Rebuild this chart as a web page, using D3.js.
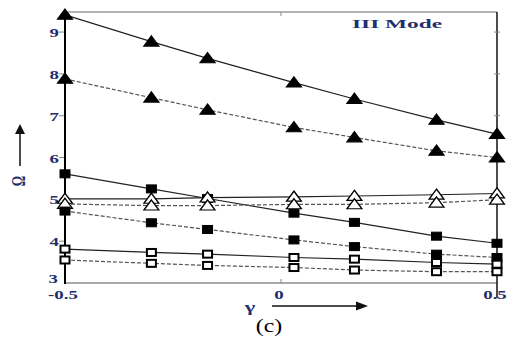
<!doctype html>
<html>
<head>
<meta charset="UTF-8">
<script src="https://d3js.org/d3.v7.min.js"></script>
<style>
  body { margin: 0; background: #fff; }
  svg { display: block; }
  text { font-family: "Liberation Serif", "Times New Roman", serif; }
  .tk { font-weight: bold; font-size: 13px; fill: #1f2f6e; }
</style>
</head>
<body>
<script>
var width = 508, height = 343;

// data
var gammas = [-0.5, -0.3, -0.17, 0.03, 0.17, 0.36, 0.5];
var triSolid   = [9.41, 8.77, 8.37, 7.79, 7.40, 6.90, 6.56];
var triDashed  = [7.88, 7.43, 7.14, 6.72, 6.48, 6.16, 6.00];
var sqSolid    = [5.61, 5.25, 5.02, 4.67, 4.45, 4.12, 3.95];
var otriSolid  = [5.01, 5.01, 5.04, 5.06, 5.08, 5.11, 5.14];
var otriDashed = [4.89, 4.85, 4.85, 4.88, 4.88, 4.92, 4.99];
var sqDashed   = [4.72, 4.44, 4.28, 4.03, 3.87, 3.69, 3.61];
var osqSolid   = [3.81, 3.73, 3.69, 3.61, 3.57, 3.49, 3.45];
var osqDashed  = [3.55, 3.47, 3.42, 3.37, 3.31, 3.27, 3.27];
var xTicks = [-0.5, 0, 0.5];
var yTicks = [3, 4, 5, 6, 7, 8, 9];

var series = [
  {vals: triSolid, dash: null, mark: 'tri', fill: '#000'},
  {vals: triDashed, dash: '4,2', mark: 'tri', fill: '#000'},
  {vals: sqSolid, dash: null, mark: 'sq', fill: '#000'},
  {vals: otriSolid, dash: null, mark: 'tri', fill: '#fff'},
  {vals: otriDashed, dash: '4,2', mark: 'tri', fill: '#fff'},
  {vals: sqDashed, dash: '4,2', mark: 'sq', fill: '#000'},
  {vals: osqSolid, dash: null, mark: 'osq', fill: '#fff'},
  {vals: osqDashed, dash: '4,2', mark: 'osq', fill: '#fff'}
];

var svg = d3.select('body').append('svg')
  .attr('width', width).attr('height', height);

var x = d3.scaleLinear().domain([-0.5, 0.5]).range([65, 497]);
var y = d3.scaleLinear().domain([3, 9.48]).range([283, 12]);

// frame
svg.append('line').attr('x1', 65).attr('x2', 497).attr('y1', 12).attr('y2', 12)
  .attr('stroke', '#666').attr('stroke-width', 1);
svg.append('line').attr('x1', 65).attr('x2', 497).attr('y1', 283).attr('y2', 283)
  .attr('stroke', '#555').attr('stroke-width', 1.2);
svg.append('line').attr('x1', 497).attr('x2', 497).attr('y1', 12).attr('y2', 298)
  .attr('stroke', '#111').attr('stroke-width', 1.5);

// small ticks
svg.append('g').selectAll('line').data(yTicks.slice(1)).enter().append('line')
  .attr('x1', 59).attr('x2', 65)
  .attr('y1', function(d){ return y(d); }).attr('y2', function(d){ return y(d); })
  .attr('stroke', '#888');
svg.append('g').selectAll('line').data(yTicks.slice(1)).enter().append('line')
  .attr('x1', 494).attr('x2', 500)
  .attr('y1', function(d){ return y(d); }).attr('y2', function(d){ return y(d); })
  .attr('stroke', '#888');
svg.append('g').selectAll('line').data([0]).enter().append('line')
  .attr('x1', function(d){ return x(d); }).attr('x2', function(d){ return x(d); })
  .attr('y1', 279).attr('y2', 283).attr('stroke', '#888');
svg.append('g').selectAll('line').data([0]).enter().append('line')
  .attr('x1', function(d){ return x(d); }).attr('x2', function(d){ return x(d); })
  .attr('y1', 12).attr('y2', 16).attr('stroke', '#888');

// tick labels (the scan is stretched sideways, so the glyphs are too)
svg.append('g').selectAll('text').data(yTicks).enter().append('text')
  .attr('class', 'tk')
  .attr('text-anchor', 'end')
  .attr('transform', function(d){
    var yy = d === 3 ? y(d) : y(d) + 5;
    var xx = d === 3 ? 58 : 59;
    return 'translate(' + xx + ',' + yy + ') scale(1.45,1)';
  })
  .text(function(d){ return d; });
svg.append('g').selectAll('text').data(xTicks).enter().append('text')
  .attr('class', 'tk')
  .attr('text-anchor', 'middle')
  .attr('transform', function(d){ return 'translate(' + (x(d) - 2) + ',299) scale(1.45,1)'; })
  .text(function(d){ return d === 0 ? '0' : d; });

// lines
var line = d3.line()
  .x(function(d, i){ return x(gammas[i]); })
  .y(function(d){ return y(d); });

svg.append('g').selectAll('path').data(series).enter().append('path')
  .attr('d', function(s){ return line(s.vals); })
  .attr('fill', 'none')
  .attr('stroke', function(s){ return s.dash ? '#555' : '#222'; })
  .attr('stroke-width', 1.2)
  .attr('stroke-dasharray', function(s){ return s.dash; });

// left axis (bold)
svg.append('line').attr('x1', 65).attr('x2', 65).attr('y1', 12).attr('y2', 284)
  .attr('stroke', '#000').attr('stroke-width', 2);

// markers
var tri = d3.symbol().type(d3.symbolTriangle).size(72);
series.forEach(function(s){
  var g = svg.append('g');
  var pts = s.vals.map(function(v, i){ return {x: gammas[i], y: v}; });
  if (s.mark === 'tri') {
    g.selectAll('path').data(pts).enter().append('path')
      .attr('d', tri)
      .attr('transform', function(d){ return 'translate(' + x(d.x) + ',' + (y(d.y) + 1) + ') scale(1.15,0.9)'; })
      .attr('fill', s.fill).attr('stroke', '#000').attr('stroke-width', 1.3);
  } else {
    var w = s.mark === 'sq' ? 10 : 9, h = s.mark === 'sq' ? 8 : 7;
    g.selectAll('rect').data(pts).enter().append('rect')
      .attr('x', function(d){ return x(d.x) - w / 2; })
      .attr('y', function(d){ return y(d.y) - h / 2; })
      .attr('width', w).attr('height', h)
      .attr('fill', s.fill).attr('stroke', '#000')
      .attr('stroke-width', s.mark === 'sq' ? 1 : 2);
  }
});

// labels
svg.append('text').attr('x', 352).attr('y', 28)
  .attr('font-weight', 'bold')
  .attr('font-size', 12).attr('fill', '#1f2f6e')
  .attr('textLength', 90).attr('lengthAdjust', 'spacingAndGlyphs')
  .text('III Mode');

// y label with arrow
svg.append('line').attr('x1', 20).attr('x2', 20).attr('y1', 166).attr('y2', 132)
  .attr('stroke', '#111').attr('stroke-width', 1.5);
svg.append('path').attr('d', 'M15,134 L20,124 L25,134 Z').attr('fill', '#111');
svg.append('text').attr('transform', 'translate(25,181) rotate(-90) scale(1,1.4)')
  .attr('text-anchor', 'middle')
  .attr('font-weight', 'bold')
  .attr('font-size', 13).attr('fill', '#1f2f6e').text('Ω');

// x label with arrow
svg.append('text').attr('transform', 'translate(250,312) scale(1.5,1)')
  .attr('text-anchor', 'middle')
  .attr('font-weight', 'bold')
  .attr('font-size', 15).attr('fill', '#1f2f6e').text('γ');
svg.append('line').attr('x1', 272).attr('x2', 358).attr('y1', 306).attr('y2', 306)
  .attr('stroke', '#111').attr('stroke-width', 1.3);
svg.append('path').attr('d', 'M356,301.5 L368,306 L356,310.5 Z').attr('fill', '#111');

svg.append('text').attr('transform', 'translate(269,332) scale(1.25,1)')
  .attr('text-anchor', 'middle')
  .attr('font-weight', 'normal')
  .attr('font-size', 19).attr('fill', '#000').text('(c)');
</script>
</body>
</html>
